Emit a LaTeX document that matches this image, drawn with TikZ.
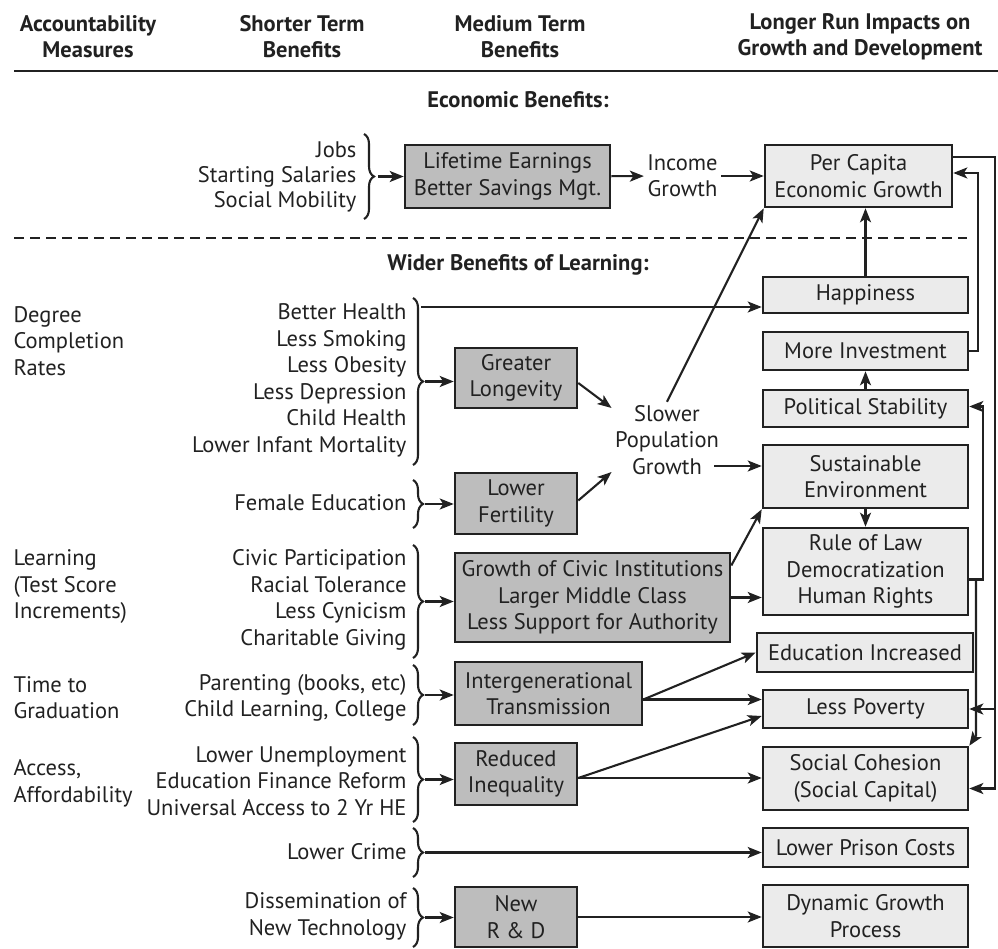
\documentclass[tikz,border=0pt]{standalone}
\usepackage{fontspec}
\setmainfont{PT Sans}
\usetikzlibrary{arrows.meta}
\usetikzlibrary{decorations.pathreplacing}

\definecolor{ink}{gray}{0.13}
\definecolor{darkbox}{gray}{0.74}
\definecolor{lightbox}{gray}{0.92}

\begin{document}
\begin{tikzpicture}[x=1pt,y=-1pt,
    every node/.style={font=\fontsize{22.5}{26.5}\selectfont, text=ink},
    hdr/.style={font=\fontsize{22.5}{26}\selectfont\bfseries, align=center},
    items/.style={align=right, anchor=east},
    measure/.style={align=left, anchor=west},
    midbox/.style={draw=ink, line width=2.6pt, fill=darkbox, align=center, inner sep=0pt},
    longbox/.style={draw=ink, line width=2.6pt, fill=lightbox, align=center, inner sep=0pt},
    brc/.style={draw=ink, line width=2.1pt, decorate, decoration={brace, amplitude=10pt}},
    arr/.style={draw=ink, line width=2.1pt, -{Stealth[length=14pt,width=11pt,inset=3.5pt]}}]
  \useasboundingbox (0,0) rectangle (998,949);

  % column heads
  \node[hdr] (hacc) at (88,37) {Accountability\\Measures};
  \node[hdr] (hshort) at (302,37) {Shorter Term\\Benefits};
  \node[hdr] (hmed) at (520,37) {Medium Term\\Benefits};
  \node[hdr] (hlong) at (860,37) {Longer Run Impacts on\\Growth and Development};
  \draw[ink, line width=2.8pt] (14,71) -- (998,71);

  % economic benefits
  \node[hdr] (econ) at (518,100) {Economic Benefits:};
  \node[items, font=\fontsize{22.5}{25}\selectfont] (jobs) at (360,177) {Jobs\\Starting Salaries\\Social Mobility};
  \draw[brc] (364,134) -- (364,219);
  \coordinate (jb) at (378,176.5);
  \node[midbox, minimum width=205pt, minimum height=63pt] (earn) at (507.5,176.5) {Lifetime Earnings\\Better Savings Mgt.};
  \node[align=center] (income) at (682.5,176) {Income\\Growth};
  \node[longbox, minimum width=187pt, minimum height=62pt] (percap) at (858.5,176) {Per Capita\\Economic Growth};
  \draw[arr] (jb) -- (jb -| earn.west);
  \draw[arr] (earn) -- (income);
  \draw[arr] (income) -- (percap);

  % divider
  \draw[ink, line width=2.1pt, dash pattern=on 10pt off 6pt] (14,238) -- (967,238);
  \node[hdr] (wider) at (518,265) {Wider Benefits of Learning:};

  % accountability measures
  \node[measure] (degree) at (10,341) {Degree\\Completion\\Rates};
  \node[measure] (learn) at (10,587) {Learning\\(Test Score\\Increments)};
  \node[measure] (time) at (10,697.5) {Time to\\Graduation};
  \node[measure] (access) at (10,783.5) {Access,\\Affordability};

  % shorter term benefits
  \node[items] (health) at (410,380.5) {Better Health\\Less Smoking\\Less Obesity\\Less Depression\\Child Health\\Lower Infant Mortality};
  \node[items] (female) at (410,503) {Female Education};
  \node[items] (civic) at (410,600) {Civic Participation\\Racial Tolerance\\Less Cynicism\\Charitable Giving};
  \node[items] (parent) at (410,698) {Parenting (books, etc)\\Child Learning, College};
  \node[items] (unemp) at (410,781) {Lower Unemployment\\Education Finance Reform\\Universal Access to 2 Yr HE};
  \node[items] (crime) at (410,852) {Lower Crime};
  \node[items] (tech) at (410,916.5) {Dissemination of\\New Technology};

  % braces
  \draw[brc] (413,298) -- (413,465);
  \draw[brc] (413,480) -- (413,528);
  \draw[brc] (413,545) -- (413,658);
  \draw[brc] (413,665) -- (413,725);
  \draw[brc] (413,737) -- (413,822);
  \draw[brc] (413,828) -- (413,877);
  \draw[brc] (413,888) -- (413,947);
  \coordinate (htop) at (421,307);
  \coordinate (hb) at (425,381.5);
  \coordinate (fb) at (425,504);
  \coordinate (cb) at (425,601.5);
  \coordinate (pb) at (425,695);
  \coordinate (ub) at (425,779.5);
  \coordinate (kb) at (425,852.5);
  \coordinate (tb) at (425,917.5);

  % medium term benefits
  \node[midbox, minimum width=122pt, minimum height=60pt] (longev) at (516,378) {Greater\\Longevity};
  \node[midbox, minimum width=122pt, minimum height=61pt] (fert) at (516,503.5) {Lower\\Fertility};
  \node[midbox, minimum width=275pt, minimum height=89pt] (civinst) at (592.5,597.5) {Growth of Civic Institutions\\Larger Middle Class\\Less Support for Authority};
  \node[midbox, minimum width=187pt, minimum height=63pt] (inter) at (548.5,693.5) {Intergenerational\\Transmission};
  \node[midbox, minimum width=122pt, minimum height=62pt] (ineq) at (516,774) {Reduced\\Inequality};
  \node[midbox, minimum width=122pt, minimum height=60pt] (rnd) at (516,917) {New\\R \& D};
  \node[align=center] (slower) at (667,440) {Slower\\Population\\Growth};

  % longer run impacts
  \node[longbox, minimum width=205pt, minimum height=36pt] (happy) at (865.5,295) {Happiness};
  \node[longbox, minimum width=205pt, minimum height=38pt] (invest) at (865.5,351) {More Investment};
  \node[longbox, minimum width=205pt, minimum height=37pt] (polit) at (865.5,408.5) {Political Stability};
  \node[longbox, minimum width=205pt, minimum height=63pt] (sustain) at (865.5,476.5) {Sustainable\\Environment};
  \node[longbox, minimum width=205pt, minimum height=87pt] (rule) at (865.5,571.5) {Rule of Law\\Democratization\\Human Rights};
  \node[longbox, minimum width=216pt, minimum height=39pt] (educ) at (865,652.5) {Education Increased};
  \node[longbox, minimum width=205pt, minimum height=38pt] (pov) at (865.5,709) {Less Poverty};
  \node[longbox, minimum width=205pt, minimum height=63pt] (cohes) at (865.5,778.5) {Social Cohesion\\(Social Capital)};
  \node[longbox, minimum width=205pt, minimum height=39pt] (prison) at (865.5,847.5) {Lower Prison Costs};
  \node[longbox, minimum width=205pt, minimum height=62pt] (dyn) at (865.5,916) {Dynamic Growth\\Process};

  % from the braces
  \draw[arr] (htop) -- (htop -| happy.west);
  \draw[arr] (hb) -- (hb -| longev.west);
  \draw[arr] (fb) -- (fb -| fert.west);
  \draw[arr] (cb) -- (cb -| civinst.west);
  \draw[arr] (pb) -- (pb -| inter.west);
  \draw[arr] (ub) -- (ub -| ineq.west);
  \draw[arr] (kb) -- (kb -| prison.west);
  \draw[arr] (tb) -- (tb -| rnd.west);

  % population
  \draw[arr] ([yshift=-5pt]longev.east) -- (slower.150);
  \draw[arr] ([yshift=3pt]fert.east) -- (slower.210);
  \draw[arr] (slower.north) -- (percap.south west);
  \coordinate (sg) at ([yshift=-26pt,xshift=-8pt]slower.east);
  \draw[arr] (sg) -- (sg -| sustain.west);

  % civic, family, inequality
  \draw[arr] ([yshift=32pt]civinst.east) -- (sustain.south west);
  \draw[arr] (civinst.east) -- (civinst.east -| rule.west);
  \coordinate (io) at ([yshift=-6pt]inter.east);
  \draw[arr] (io) -- (educ.west);
  \draw[arr] (io) -- (io -| pov.west);
  \coordinate (qo) at ([yshift=-4pt]ineq.east);
  \draw[arr] (qo) -- ([yshift=-7pt]pov.west);
  \draw[arr] (qo) -- (qo -| cohes.west);
  \draw[arr] (rnd.east) -- (rnd.east -| dyn.west);

  % right column
  \draw[arr] (happy.north) -- (happy.north |- percap.south);
  \draw[arr] (polit.north) -- (invest.south);
  \draw[arr] (sustain.south) -- (rule.north);

  % feedback loops
  \coordinate (loopa) at (995,157);
  \coordinate (loopb) at (978,0);
  \coordinate (loopc) at (983,0);
  \coordinate (loopd) at (976,0);
  \draw[arr] (percap.east |- loopa) -- (loopa) |- ([yshift=-10pt]cohes.east);
  \draw[arr] (loopa |- pov.east) -- (pov.east);
  \draw[arr] (invest.east) -- (invest.east -| loopb) |- ([yshift=3pt]percap.east);
  \coordinate (ro) at ([yshift=-8pt]rule.east);
  \draw[arr] (ro) -- (ro -| loopc) |- ([yshift=2pt]polit.east);
  \coordinate (ce) at ([yshift=10pt]cohes.north east);
  \draw[arr] (ro -| loopd) -- (ce -| loopd) -- (cohes.north east);
\end{tikzpicture}
\end{document}
